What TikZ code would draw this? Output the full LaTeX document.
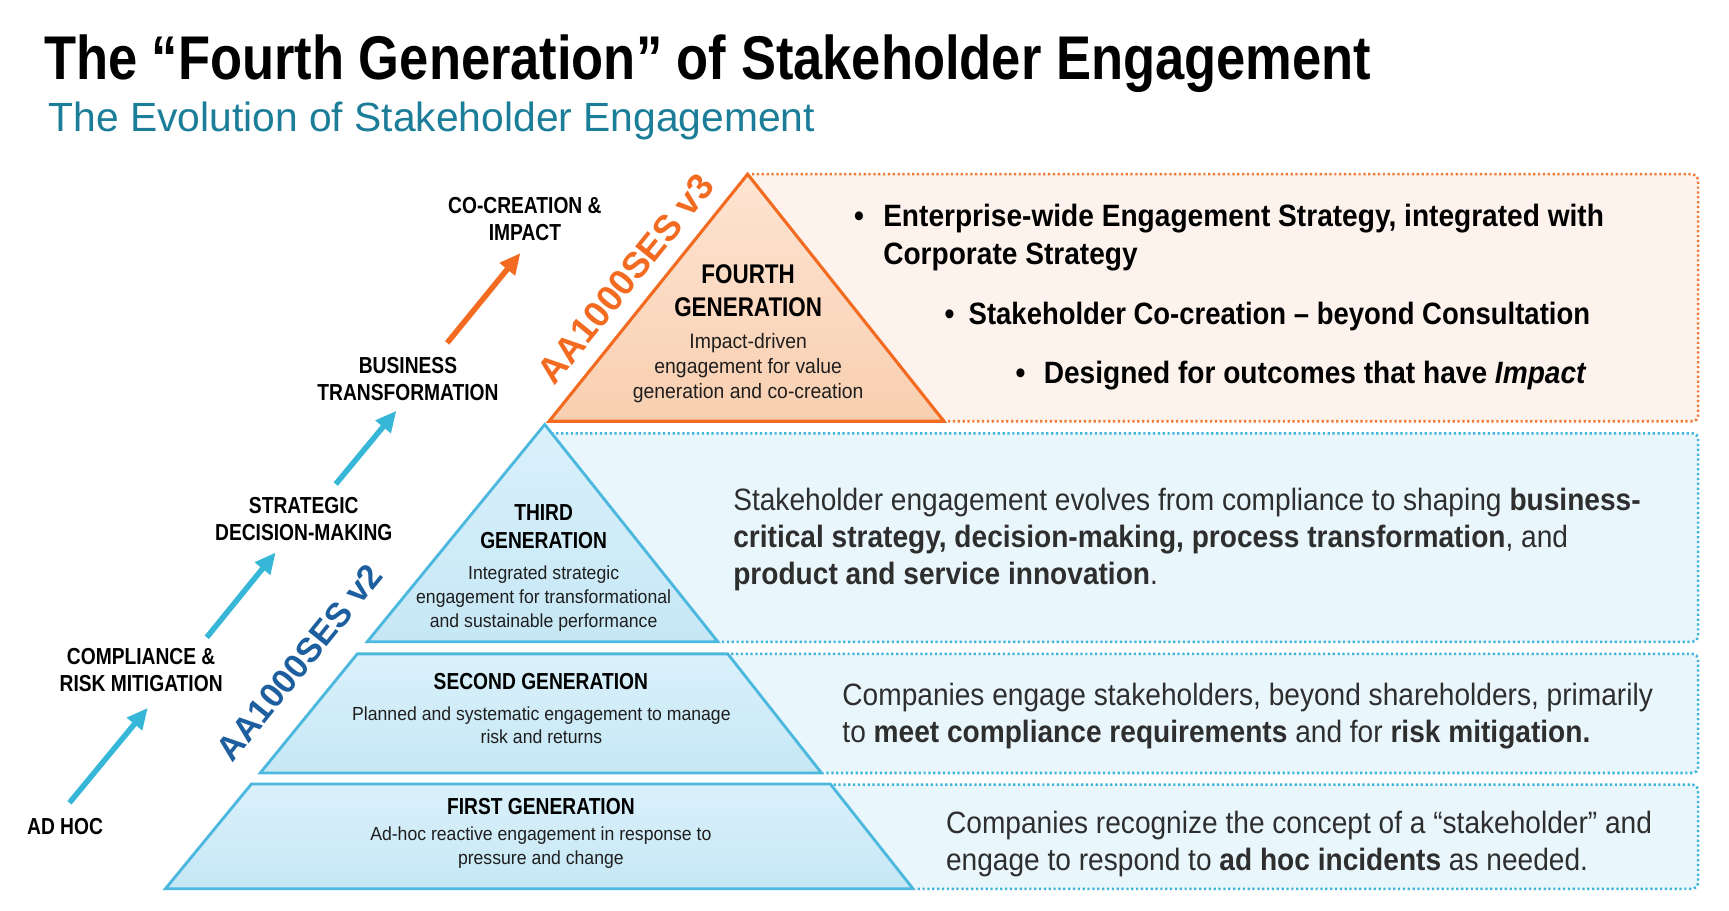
\documentclass[tikz,border=0pt]{standalone}
\usepackage{fontspec}
\setmainfont{Liberation Sans}
\newfontfamily\tfont[FakeStretch=0.85]{Liberation Sans}
\newfontfamily\lfont[FakeStretch=0.83]{Liberation Sans}
\newfontfamily\sfont[FakeStretch=0.93]{Liberation Sans}
\newfontfamily\rfont[FakeStretch=0.91]{Liberation Sans}
\usetikzlibrary{arrows.meta}
\definecolor{orangeline}{HTML}{F26B21}
\definecolor{orangedot}{HTML}{F07A35}
\definecolor{peachtop}{HTML}{FDE4D2}
\definecolor{peachbot}{HTML}{F9CFB0}
\definecolor{peachbox}{HTML}{FDF3EC}
\definecolor{tierline}{HTML}{4DB8DE}
\definecolor{tiertop}{HTML}{DAF1FB}
\definecolor{tierbot}{HTML}{C6E7F5}
\definecolor{bluebox}{HTML}{E9F6FC}
\definecolor{bluedot}{HTML}{3DB4DA}
\definecolor{arrowblue}{HTML}{36B7D7}
\definecolor{vtwoblue}{HTML}{1D5E9E}
\definecolor{subteal}{HTML}{1B7D98}
\definecolor{paragray}{HTML}{2E2E2E}
\definecolor{subgray}{HTML}{1E1E1E}
\newcommand\mlc[1]{\begin{tabular}[t]{@{}c@{}}#1\end{tabular}}
\newcommand\mll[1]{\begin{tabular}[t]{@{}l@{}}#1\end{tabular}}
\begin{document}
\begin{tikzpicture}[x=1pt,y=-1pt,
  txt/.style={inner sep=0pt, outer sep=0pt},
  lab/.style={txt, anchor=base, font=\lfont\bfseries\fontsize{21}{24.4}\selectfont, text=black},
  hd/.style={txt, anchor=base, font=\lfont\bfseries\fontsize{21}{25.7}\selectfont, text=black},
  sub/.style={txt, anchor=base, font=\sfont\fontsize{17.2}{21.8}\selectfont, text=subgray},
  para/.style={txt, anchor=base west, font=\rfont\fontsize{28}{33.6}\selectfont, text=paragray},
  bpara/.style={txt, anchor=base west, font=\rfont\bfseries\fontsize{28}{34}\selectfont, text=black},
  bul/.style={txt, anchor=base, font=\rfont\bfseries\fontsize{28}{34}\selectfont, text=black},
  upar/.style={line width=5pt, -{Triangle[length=19pt,width=17pt]}},
  tier/.style={draw=tierline, line width=2.6pt, top color=tiertop, bottom color=tierbot},
  gen4/.style={draw=orangeline, line width=2.8pt, top color=peachtop, bottom color=peachbot},
  boxline/.style={line width=2.3pt, dash pattern=on 2pt off 2.4pt, rounded corners=5pt},
  vlab/.style={txt, rotate=51, font=\bfseries\fontsize{33}{36}\selectfont}
]
\useasboundingbox (0,0) rectangle (1568,825.3);
\fill[white] (0,0) rectangle (1568,825.3);

% title
\node[txt, anchor=base west, font=\tfont\bfseries\fontsize{56}{60}\selectfont] (title) at (40,72) {The “Fourth Generation” of Stakeholder Engagement};
\node[txt, anchor=base west, font=\fontsize{37}{40}\selectfont, text=subteal] (subtitle) at (44,119.4) {The Evolution of Stakeholder Engagement};

% right boxes
\fill[peachbox, rounded corners=5pt] (678,158) rectangle (1540,382);
\draw[boxline, orangedot] (682,158) -- (1540,158) -- (1540,382) -- (858,382);
\fill[bluebox, rounded corners=5pt] (494,393) rectangle (1540,582);
\draw[boxline, bluedot] (500,393) -- (1540,393) -- (1540,582) -- (653,582);
\fill[bluebox, rounded corners=5pt] (660,593) rectangle (1540,701);
\draw[boxline, bluedot] (663,593) -- (1540,593) -- (1540,701) -- (747,701);
\fill[bluebox, rounded corners=5pt] (753,711.5) rectangle (1540,806);
\draw[boxline, bluedot] (756,711.5) -- (1540,711.5) -- (1540,806) -- (830,806);

% pyramid
\draw[gen4] (678,158) -- (856,382) -- (498,382) -- cycle;
\draw[tier] (494,385) -- (651,582) -- (333,582) -- cycle;
\draw[tier] (324,593) -- (660,593) -- (745,701) -- (236,701) -- cycle;
\draw[tier] (228,711) -- (753,711) -- (828,806) -- (150,806) -- cycle;

% pyramid texts
\node[txt, anchor=base, font=\lfont\bfseries\fontsize{24.5}{30.2}\selectfont] (g4h) at (678.5,257) {\mlc{FOURTH\\GENERATION}};
\node[sub, font=\sfont\fontsize{18.9}{22.7}\selectfont] (g4s) at (678.5,316) {\mlc{Impact-driven\\engagement for value\\generation and co-creation}};
\node[hd] (g3h) at (493,471.6) {\mlc{THIRD\\GENERATION}};
\node[sub] (g3s) at (493,525.4) {\mlc{Integrated strategic\\engagement for transformational\\and sustainable performance}};
\node[hd] (g2h) at (490.5,625) {SECOND GENERATION};
\node[sub, font=\sfont\fontsize{17.2}{21.5}\selectfont] (g2s) at (491,653) {\mlc{Planned and systematic engagement to manage\\risk and returns}};
\node[hd] (g1h) at (490.5,738.2) {FIRST GENERATION};
\node[sub, font=\sfont\fontsize{17.2}{22}\selectfont] (g1s) at (490.5,762.4) {\mlc{Ad-hoc reactive engagement in response to\\pressure and change}};

% rotated labels
\node[vlab, text=orangeline] (v3) at (567.5,253) {AA1000SES v3};
\node[vlab, text=vtwoblue, font=\bfseries\fontsize{31}{34}\selectfont] (v2) at (271.5,601) {AA1000SES v2};

% left labels
\node[lab] (cocreate) at (476,193.5) {\mlc{CO-CREATION \&\\IMPACT}};
\node[lab] (business) at (370,338.5) {\mlc{BUSINESS\\TRANSFORMATION}};
\node[lab] (strategic) at (275.5,465.5) {\mlc{STRATEGIC\\DECISION-MAKING}};
\node[lab] (compliance) at (128,603) {\mlc{COMPLIANCE \&\\RISK MITIGATION}};
\node[lab] (adhoc) at (59,757) {AD HOC};

% arrows
\coordinate (a1s) at (63,728);
\coordinate (a1e) at (134,642);
\coordinate (a2s) at (187.5,578);
\coordinate (a2e) at (250,501);
\coordinate (a3s) at (304.5,439);
\coordinate (a3e) at (359.5,372.5);
\coordinate (a4s) at (405.5,311);
\coordinate (a4e) at (472,229.5);
\draw[upar, arrowblue] (a1s) -- (a1e);
\draw[upar, arrowblue] (a2s) -- (a2e);
\draw[upar, arrowblue] (a3s) -- (a3e);
\draw[upar, orangeline] (a4s) -- (a4e);

% orange box bullets
\node[bul] (b1) at (779,205.6) {•};
\node[bpara] (e1) at (801,205.6) {\mll{Enterprise-wide Engagement Strategy, integrated with\\Corporate Strategy}};
\node[bul] (b2) at (861,294.7) {•};
\node[bpara, font=\rfont\bfseries\fontsize{28}{34}\selectfont\addfontfeature{FakeStretch=0.89}] (e2) at (878.5,294.7) {Stakeholder Co-creation – beyond Consultation};
\node[bul] (b3) at (925.5,348.2) {•};
\node[bpara] (e3) at (946.6,348.2) {Designed for outcomes that have \textit{Impact}};

% blue box paragraphs
\node[para] (p3) at (665,463) {\mll{Stakeholder engagement evolves from compliance to shaping \textbf{business-}\\\textbf{critical strategy, decision-making, process transformation}, and\\\textbf{product and service innovation}.}};
\node[para] (p2) at (764,639.5) {\mll{Companies engage stakeholders, beyond shareholders, primarily\\to \textbf{meet compliance requirements} and for \textbf{risk mitigation.}}};
\node[para] (p1) at (858,755.5) {\mll{Companies recognize the concept of a “stakeholder” and\\engage to respond to \textbf{ad hoc incidents} as needed.}};
\end{tikzpicture}
\end{document}
